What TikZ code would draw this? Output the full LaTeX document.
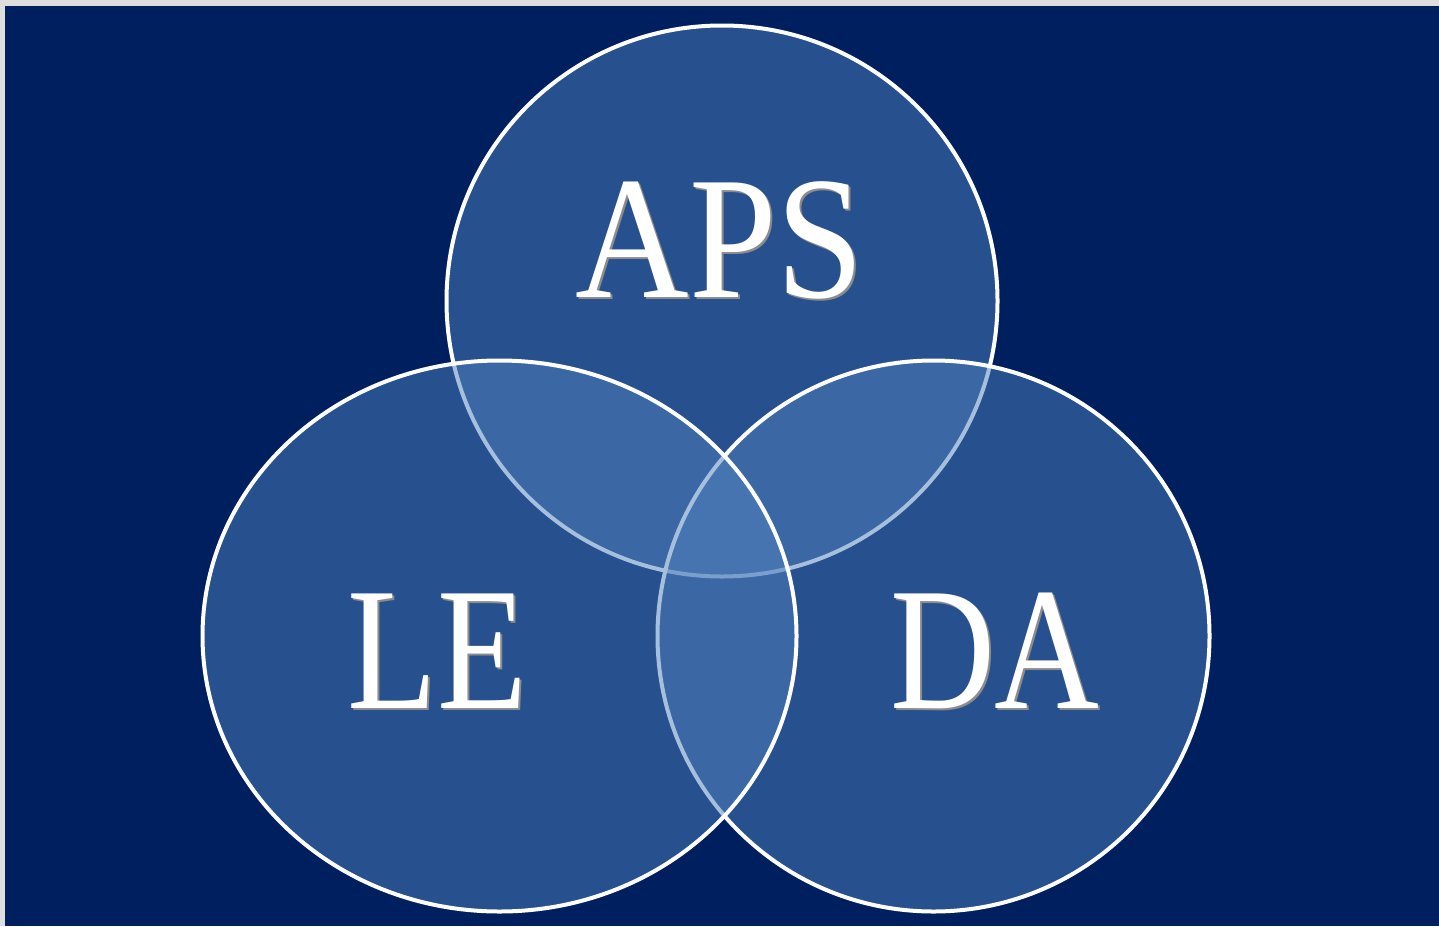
\documentclass[tikz,border=0pt]{standalone}
\usepackage{fontspec}
\setmainfont{Liberation Serif}
\usetikzlibrary{shapes.geometric}
\definecolor{navy}{HTML}{001F5F}
\definecolor{frame}{HTML}{DEDEDE}
\definecolor{setblue}{HTML}{4F81BD}
\definecolor{shade}{HTML}{8C8C8C}
\tikzset{
  setshape/.style={ellipse, draw=white, line width=2pt, fill=setblue, fill opacity=0.5, draw opacity=1, inner sep=0pt},
  bigword/.style={anchor=base, inner sep=0pt, font=\fontsize{87.5pt}{90pt}\selectfont},
}
\begin{document}
\begin{tikzpicture}[x=0.5pt,y=-0.5pt]
\fill[frame] (0,0) rectangle (1439,926);
\fill[navy] (5,6) rectangle (1439,926);
\useasboundingbox (0,0) rectangle (1439,926);
\node[setshape, minimum width=275.5pt, minimum height=275.5pt] (aps) at (722,301) {};
\node[setshape, minimum width=276pt, minimum height=275.5pt] (da) at (933.5,636) {};
\node[setshape, minimum width=297pt, minimum height=275.5pt] (le) at (499.5,636) {};
% labels
\node[bigword, text=shade] (apsS) at (722,299.5) {\scalebox{0.9}[1]{APS}};
\node[bigword, text=white] (apsT) at (720,297.5) {\scalebox{0.9}[1]{APS}};
\node[bigword, text=shade] (leS) at (439,710) {\scalebox{0.84}[1]{LE}};
\node[bigword, text=white] (leT) at (437,708) {\scalebox{0.84}[1]{LE}};
\node[bigword, text=shade] (daS) at (997,710) {\scalebox{0.83}[1]{DA}};
\node[bigword, text=white] (daT) at (995,708) {\scalebox{0.83}[1]{DA}};
\end{tikzpicture}
\end{document}
